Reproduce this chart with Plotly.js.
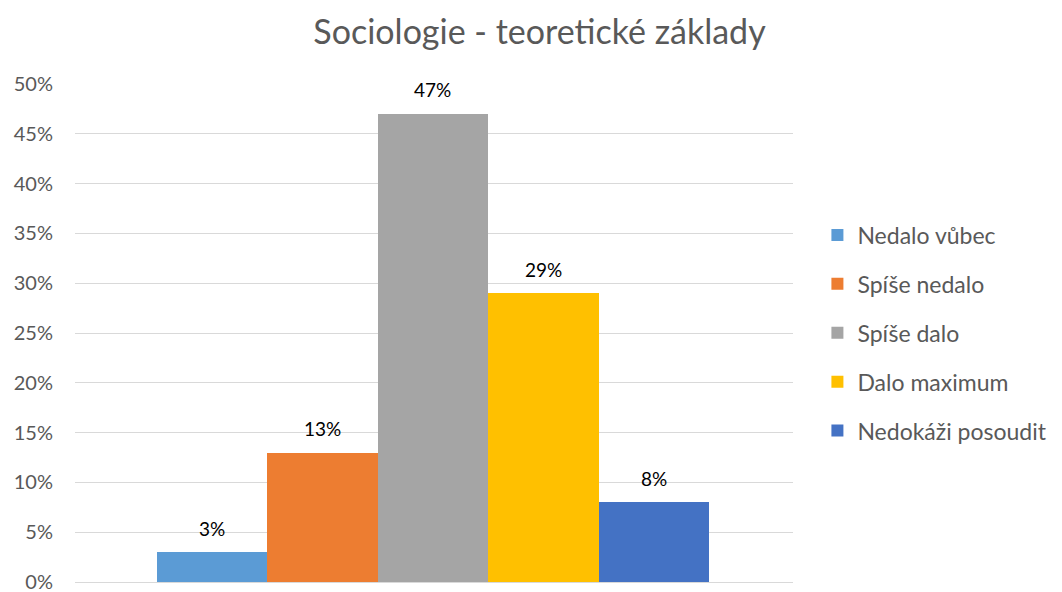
<!DOCTYPE html>
<html><head><meta charset="utf-8">
<script src="https://cdn.plot.ly/plotly-3.0.1.min.js"></script>
<style>body{margin:0}#c{width:1062px;height:592px}</style>
</head><body><div id="c"></div>
<script>
const seriesNames = ["Nedalo vůbec","Spíše nedalo","Spíše dalo","Dalo maximum","Nedokáži posoudit"];
const seriesValues = [0.03,0.13,0.47,0.29,0.08];
const valueLabels = ["3%","13%","47%","29%","8%"];
const seriesColors = ["#5B9BD5","#ED7D31","#A5A5A5","#FFC000","#4472C4"];
const yTickVals = [0,0.05,0.1,0.15,0.2,0.25,0.3,0.35,0.4,0.45,0.5];
const yTickText = ["0%","5%","10%","15%","20%","25%","30%","35%","40%","45%","50%"];

const font = "Lato, 'Open Sans', sans-serif";
const traces = seriesNames.map((n,i)=>({
  type:'bar', name:n, x:[n], y:[seriesValues[i]],
  marker:{color:seriesColors[i]}, legendgroup:'g'+i,
  hoverinfo:'skip'
}));
const annotations = seriesNames.map((n,i)=>({
  x:n, y:seriesValues[i], xref:'x', yref:'y', text:valueLabels[i],
  showarrow:false, yshift:24, yanchor:'middle', xanchor:'center',
  font:{family:font,size:19,color:'#000'}
}));
Plotly.newPlot('c',traces,{
  width:1062,height:592,
  margin:{l:75,r:267,t:84,b:10},
  paper_bgcolor:'#fff',plot_bgcolor:'#fff',
  title:{text:"Sociologie - teoretické základy",x:0.508,xanchor:'center',y:0.945,yanchor:'middle',
    font:{family:font,size:34,color:'#595959'}},
  barmode:'overlay',bargap:0,
  annotations:annotations,
  xaxis:{type:'category',range:[-1.24,5.26],showticklabels:false,showgrid:false,zeroline:false,showline:false,ticks:''},
  yaxis:{range:[0,0.5],tickvals:yTickVals,ticktext:yTickText,showgrid:true,gridcolor:'#D9D9D9',gridwidth:1,
    zeroline:true,zerolinecolor:'#D9D9D9',showline:false,ticks:'',ticklen:0,ticklabelstandoff:21,
    ticklabeloverflow:'allow',
    tickfont:{family:font,size:20,color:'#595959'}},
  legend:{x:1.034,xanchor:'left',y:0.5,yanchor:'middle',traceorder:'grouped',tracegroupgap:16,
    font:{family:font,size:23,color:'#595959'},bgcolor:'rgba(0,0,0,0)'},
  showlegend:true
},{staticPlot:true});
</script></body></html>
